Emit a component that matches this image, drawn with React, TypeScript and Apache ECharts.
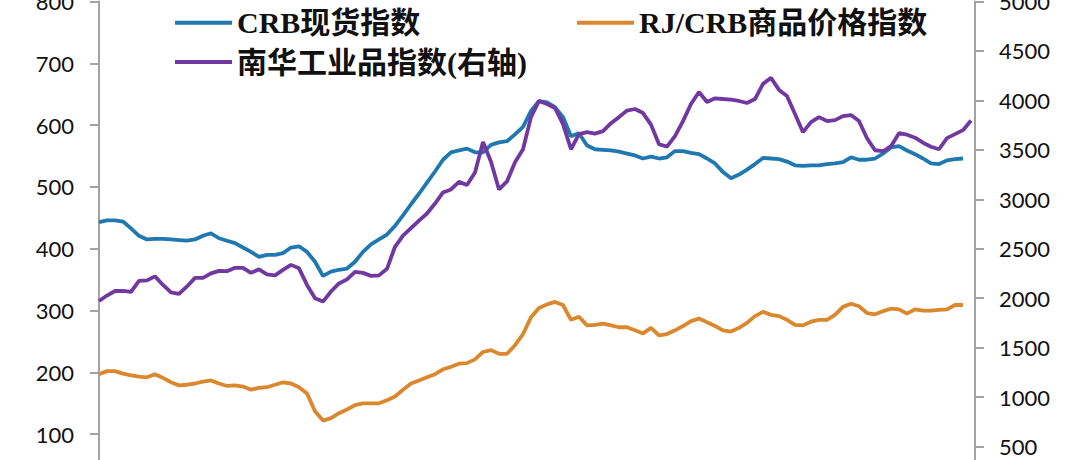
import React, { useEffect, useRef } from "react";
import * as echarts from "echarts";

// CRB spot index (left axis)
const crbSpot = [
  443, 446, 446, 444, 433, 421, 415, 416, 416, 415,
  414, 413, 415, 421, 425, 417, 413, 409, 402, 395,
  387, 390, 390, 393, 402, 404, 395, 379, 356, 363,
  366, 368, 379, 395, 407, 415, 423, 437, 454, 472,
  489, 507, 525, 544, 556, 559, 562, 556, 556, 568,
  572, 574, 585, 597, 623, 639, 637, 629, 613, 582,
  587, 567, 561, 560, 559, 557, 554, 551, 546, 549,
  546, 548, 558, 558, 555, 553, 546, 538, 524, 514,
  520, 528, 537, 547, 546, 545, 541, 535, 534, 535,
  535, 537, 538, 540, 548, 544, 544, 546, 554, 564,
  566, 559, 553, 546, 538, 537, 543, 545, 546,
];

// RJ/CRB commodity price index (left axis)
const rjCrb = [
  197, 202, 202, 198, 195, 193, 192, 197, 191, 184,
  179, 180, 182, 185, 187, 182, 178, 179, 177, 172,
  175, 176, 180, 184, 182, 176, 166, 137, 122, 126,
  134, 140, 147, 150, 150, 150, 155, 161, 172, 182,
  187, 192, 197, 205, 209, 214, 215, 221, 233, 236,
  230, 230, 244, 262, 289, 304, 310, 314, 309, 285,
  290, 276, 277, 279, 276, 273, 273, 268, 263, 272,
  260, 262, 268, 275, 283, 287, 281, 275, 268, 266,
  272, 280, 291, 298, 293, 291, 285, 277, 276, 282,
  285, 285, 293, 306, 311, 307, 296, 294, 299, 303,
  302, 295, 302, 300, 300, 301, 302, 309, 309,
];

// Nanhua industrial index (right axis)
const nanhua = [
  1972, 2027, 2073, 2073, 2063, 2175, 2180, 2221, 2134, 2058,
  2043, 2119, 2205, 2205, 2251, 2276, 2273, 2307, 2307, 2256,
  2292, 2241, 2231, 2287, 2337, 2302, 2134, 1999, 1966, 2068,
  2149, 2190, 2266, 2256, 2226, 2231, 2297, 2520, 2632, 2708,
  2785, 2856, 2957, 3069, 3100, 3176, 3145, 3272, 3580, 3380,
  3100, 3181, 3374, 3506, 3831, 3994, 3963, 3923, 3760, 3506,
  3659, 3679, 3664, 3689, 3770, 3831, 3897, 3913, 3872, 3755,
  3557, 3532, 3638, 3791, 3963, 4085, 3984, 4021, 4014, 4008,
  3994, 3974, 4014, 4167, 4228, 4106, 4045, 3862, 3679, 3780,
  3831, 3791, 3801, 3841, 3852, 3791, 3618, 3496, 3486, 3537,
  3669, 3653, 3623, 3572, 3532, 3506, 3618, 3659, 3699, 3796,
];

const seriesNames = ["CRB现货指数", "RJ/CRB商品价格指数", "南华工业品指数(右轴)"];
const colors = ["#1f78b0", "#db872e", "#7038a0"];

const toPoints = (arr: number[]) => arr.map((v, i) => [i, v]);

const axisGray = "#a3a3a3";
const labelFont = "Lato, 'Liberation Sans', sans-serif";
const legendFont = "'Liberation Serif', 'Noto Sans CJK SC', serif";

export default function App() {
  const ref = useRef<HTMLDivElement>(null);

  useEffect(() => {
    document.body.style.margin = "0";
    if (!ref.current) return;
    const chart = echarts.init(ref.current, undefined, { renderer: "svg" });

    const legendText = {
      fontFamily: legendFont,
      fontWeight: "bold" as const,
      fontSize: 30,
      lineHeight: 34,
      color: "#111",
    };
    const legendBase = {
      orient: "horizontal" as const,
      icon: "rect",
      itemWidth: 57,
      itemHeight: 4,
      textStyle: legendText,
      selectedMode: false,
      padding: 0,
    };

    const yAxisBase = {
      type: "value" as const,
      min: 0,
      axisLine: { show: true, lineStyle: { color: axisGray, width: 2 } },
      axisTick: { show: true, length: 9, lineStyle: { color: axisGray, width: 2 } },
      splitLine: { show: false },
      axisLabel: {
        fontFamily: labelFont,
        fontSize: 22,
        color: "#111",
        showMinLabel: false,
        formatter: (v: number) => String(v),
      },
    };

    chart.setOption({
      animation: false,
      backgroundColor: "#ffffff",
      color: colors,
      grid: {
        left: 99,
        right: 105,
        top: 1.5,
        bottom: 0,
        containLabel: false,
        outerBoundsMode: "none",
      },
      legend: [
        { ...legendBase, left: 175, top: 5.7, data: [seriesNames[0]] },
        { ...legendBase, left: 577, top: 5.7, data: [seriesNames[1]] },
        { ...legendBase, left: 175, top: 45, data: [seriesNames[2]] },
      ],
      xAxis: {
        type: "value",
        min: 0,
        max: 109.5,
        show: false,
      },
      yAxis: [
        {
          ...yAxisBase,
          position: "left",
          max: 800,
          interval: 100,
          axisLabel: { ...yAxisBase.axisLabel, margin: 25 },
        },
        {
          ...yAxisBase,
          position: "right",
          max: 5000,
          interval: 500,
          axisLabel: { ...yAxisBase.axisLabel, margin: 24 },
        },
      ],
      series: [
        {
          name: seriesNames[0],
          type: "line",
          yAxisIndex: 0,
          data: toPoints(crbSpot),
          showSymbol: false,
          symbol: "none",
          lineStyle: { width: 3.8, color: colors[0] },
          itemStyle: { color: colors[0] },
          z: 3,
        },
        {
          name: seriesNames[1],
          type: "line",
          yAxisIndex: 0,
          data: toPoints(rjCrb),
          showSymbol: false,
          symbol: "none",
          lineStyle: { width: 3.8, color: colors[1] },
          itemStyle: { color: colors[1] },
          z: 3,
        },
        {
          name: seriesNames[2],
          type: "line",
          yAxisIndex: 1,
          data: toPoints(nanhua),
          showSymbol: false,
          symbol: "none",
          lineStyle: { width: 3.8, color: colors[2] },
          itemStyle: { color: colors[2] },
          z: 4,
        },
      ],
    });

    return () => chart.dispose();
  }, []);

  return (
    <div style={{ width: 1080, height: 460, overflow: "hidden", position: "relative" }}>
      <div ref={ref} style={{ width: 1080, height: 496 }} />
    </div>
  );
}
